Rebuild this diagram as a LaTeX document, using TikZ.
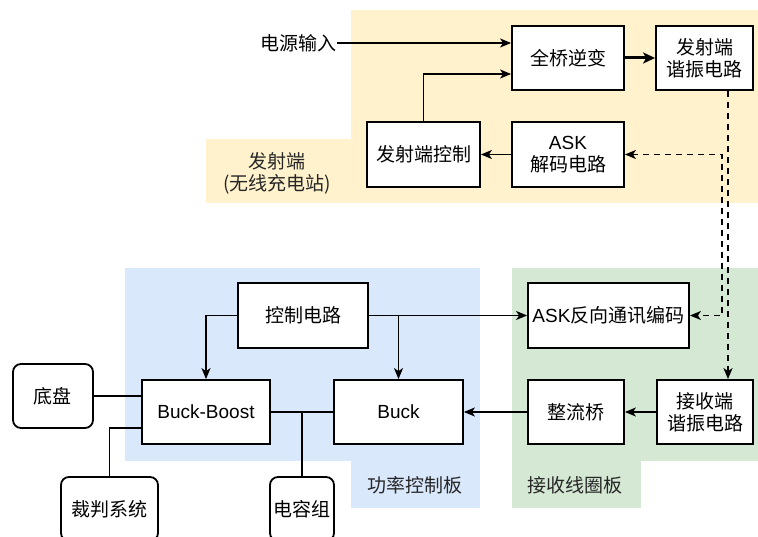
\documentclass[tikz,border=0pt]{standalone}
\usepackage{fontspec}
\setmainfont{Liberation Sans}
\newfontfamily\cjk{Noto Sans CJK SC}
\usetikzlibrary{arrows.meta,calc}
\newcommand\myfs{\fontsize{19}{22}\selectfont}
\definecolor{yelbg}{HTML}{FFF2CC}
\definecolor{bluebg}{HTML}{DAE8FC}
\definecolor{greenbg}{HTML}{D5E8D4}
\begin{document}
\begin{tikzpicture}[x=1pt,y=-1pt,
  box/.style={draw=black, line width=1.8pt, fill=white, minimum width=#1, minimum height=64pt,
    inner sep=0pt, align=center, font=\myfs\cjk},
  rbox/.style={box=#1, rounded corners=8pt},
  lbl/.style={inner sep=0pt, align=center, font=\myfs\cjk, text=black!85},
  conn/.style={line width=1.7pt},
  arr/.style={conn, -{Stealth[length=11pt,width=9pt,inset=3pt]}},
  thickarr/.style={line width=3pt, -{Stealth[length=12pt,width=11pt,inset=3pt]}},
  darr/.style={conn, dash pattern=on 6pt off 5pt, -{Stealth[length=11pt,width=9pt,inset=3pt]}},
  dbarr/.style={conn, dash pattern=on 6pt off 5pt, {Stealth[length=11pt,width=9pt,inset=3pt]}-{Stealth[length=11pt,width=9pt,inset=3pt]}}
]
\clip (0,0) rectangle (758,537);
% background regions
\fill[yelbg] (351,10) rectangle (758,203);
\fill[yelbg] (206,139) rectangle (351,203);
\fill[bluebg] (125,268) rectangle (480,461);
\fill[bluebg] (351,461) rectangle (480,508);
\fill[greenbg] (512,268) rectangle (758,461);
\fill[greenbg] (512,461) rectangle (641,508);

% region labels
\node[lbl] (lbltx) at (277,173) {发射端\\(无线充电站)};
\node[lbl] (lblpw) at (415,485) {功率控制板};
\node[lbl] (lblrx) at (575,485) {接收线圈板};

% transmitter
\node[lbl, anchor=east, text=black] (pin) at (337,43) {电源输入};
\node[box=112pt] (qq) at (568,58) {全桥逆变};
\node[box=97pt] (txr) at (704.5,58) {发射端\\谐振电路};
\node[box=113pt, minimum height=65pt] (txc) at (423.5,154.5) {发射端控制};
\node[box=112pt, minimum height=65pt] (askd) at (568,154.5) {{\rmfamily ASK}\\解码电路};

% power board
\node[box=130pt, minimum height=65pt] (ctl) at (303,315.5) {控制电路};
\node[box=128pt] (bb) at (206,412) {\rmfamily Buck-Boost};
\node[box=129pt] (bk) at (398.5,412) {\rmfamily Buck};
\node[rbox=80pt] (chassis) at (53,396) {底盘};
\node[rbox=97pt] (ref) at (109.5,509) {裁判系统};
\node[rbox=64pt] (cap) at (302,509) {电容组};

% receiver
\node[box=161pt, minimum height=65pt] (aske) at (608.5,315.5) {{\rmfamily ASK}反向通讯编码};
\node[box=96pt] (rect) at (576,412) {整流桥};
\node[box=96pt] (rxr) at (705,412) {接收端\\谐振电路};

% connectors
\draw[arr] (pin.east) -- ([yshift=15pt]qq.west);
\draw[arr] (txc.north) |- ([yshift=-16pt]qq.west);
\draw[thickarr] (qq.east) -- (txr.west);
\draw[arr] (askd.west) -- (txc.east);
\draw[darr] ([xshift=23.5pt]txr.south) -- ([xshift=23.5pt]txr.south |- rxr.north);
\draw[dbarr] (askd.east) -- ++(97,0) |- (aske.east);
\draw[arr] (ctl.east) -- (aske.west);
\draw[arr] (ctl.west) -| (bb.north);
\draw[arr] (ctl.east) -| (bk.north);
\draw[arr] (rect.west) -- (bk.east);
\draw[arr] (rxr.west) -- (rect.east);
\draw[conn] (bb.east) -- (bk.west);
\draw[conn] (cap.north) -- (cap.north |- bb.east);
\draw[conn] (chassis.east) -- (chassis.east -| bb.west);
\draw[conn] (ref.north) |- ([yshift=-16pt]bb.west);
\end{tikzpicture}
\end{document}
